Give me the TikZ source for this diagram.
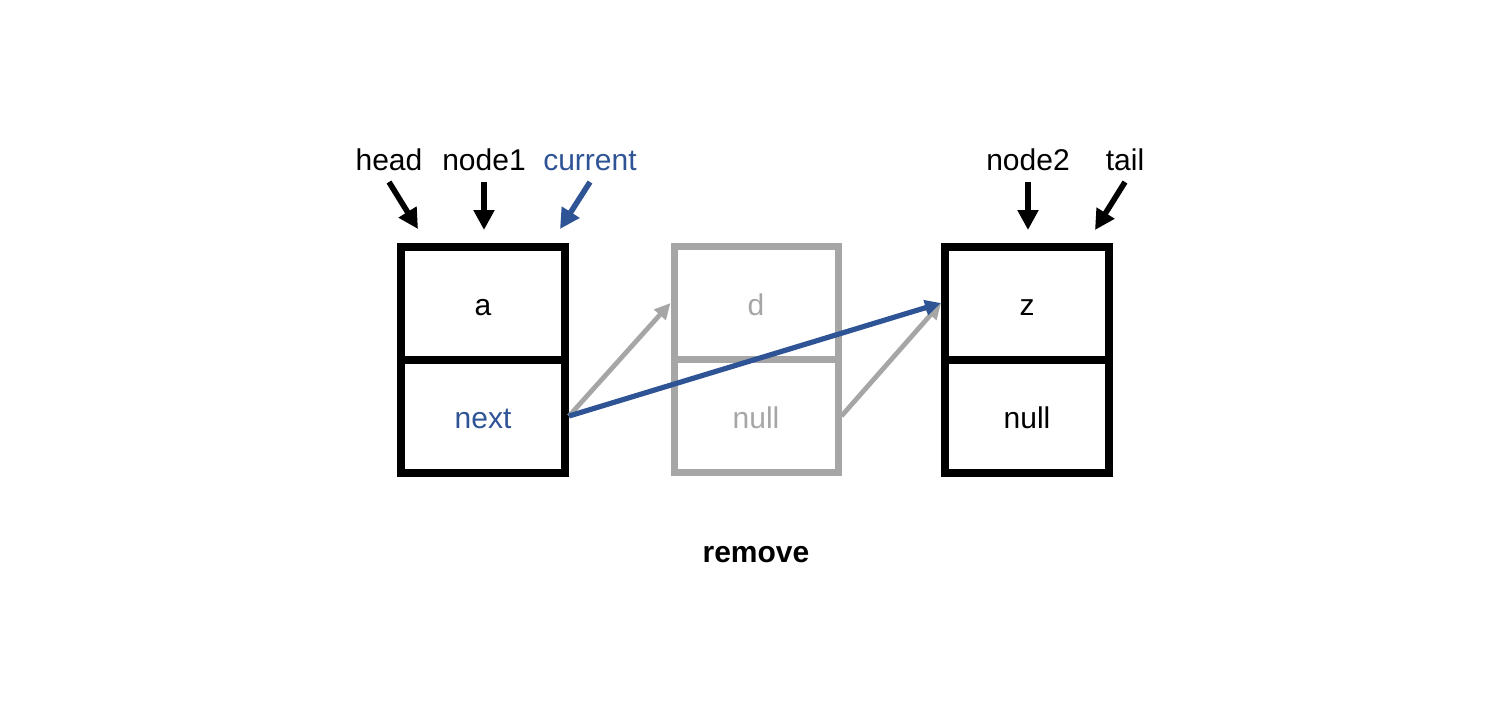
\documentclass[tikz,border=0pt]{standalone}
\usepackage{fontspec}
\setmainfont{Liberation Sans}
\usetikzlibrary{arrows.meta}
\definecolor{ptrblue}{RGB}{47,84,150}
\definecolor{ghost}{RGB}{166,166,166}
\begin{document}
\begin{tikzpicture}[x=0.5pt,y=-0.5pt,
  cell/.style={draw=black, line width=4pt, minimum width=82pt, minimum height=56.5pt, inner sep=0pt, text height=12.5pt, text depth=0pt, font=\fontsize{15pt}{18pt}\selectfont},
  gcell/.style={cell, draw=ghost, line width=3.5pt, text=ghost},
  lbl/.style={anchor=south, inner xsep=0pt, inner ysep=5.5pt, text depth=0pt, font=\fontsize{15pt}{18pt}\selectfont},
  ptr/.style={-{Triangle[length=10pt,width=10pt]}, line width=2.8pt},
  link/.style={-{Triangle[length=8pt,width=7.5pt]}, line width=2.4pt}
]
\useasboundingbox (0,0) rectangle (1512,720);

% list cells
\node[cell] (a) at (483,303) {a};
\node[cell, text=ptrblue] (next) at (483,416) {next};
\node[gcell] (d) at (756,303) {d};
\node[gcell] (dnull) at (756,416) {null};
\node[cell] (z) at (1027,303) {z};
\node[cell] (znull) at (1027,416) {null};

% pointer labels
\node[lbl] (head) at (389,182) {head};
\node[lbl] (node1) at (484,182) {node1};
\node[lbl, text=ptrblue] (current) at (590,182) {current};
\node[lbl] (node2) at (1028,182) {node2};
\node[lbl] (tail) at (1125,182) {tail};

\coordinate (headtip) at (418,229);
\coordinate (node1tip) at (484,230);
\coordinate (currenttip) at (560,229);
\coordinate (node2tip) at (1028,230);
\coordinate (tailtip) at (1095,230);

\draw[ptr] (head.south) -- (headtip);
\draw[ptr] (node1.south) -- (node1tip);
\draw[ptr, draw=ptrblue, fill=ptrblue] (current.south) -- (currenttip);
\draw[ptr] (node2.south) -- (node2tip);
\draw[ptr] (tail.south) -- (tailtip);

% links
\draw[link, draw=ghost, fill=ghost] (next.east) -- (d.west);
\draw[link, draw=ghost, fill=ghost] (dnull.east) -- (z.west);
\draw[link, draw=ptrblue, fill=ptrblue, line width=2.6pt] (next.east) -- (z.west);

% caption
\node[font=\bfseries\fontsize{15pt}{18pt}\selectfont] (caption) at (756,555) {remove};
\end{tikzpicture}
\end{document}
